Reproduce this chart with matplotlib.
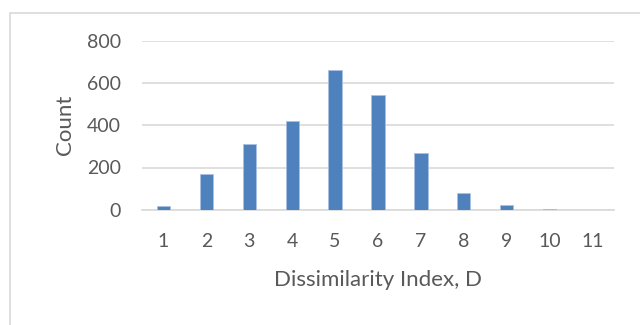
import matplotlib.pyplot as plt
from matplotlib.patches import Rectangle

# counts per dissimilarity index
categories = ['1', '2', '3', '4', '5', '6', '7', '8', '9', '10', '11']
counts = [17, 169, 311, 420, 660, 545, 269, 79, 23, 5, 0]
yticks = [0, 200, 400, 600, 800]

plt.rcParams['font.family'] = ['Lato', 'DejaVu Sans']

fig = plt.figure(figsize=(6.4, 3.25), dpi=100)
ax = fig.add_axes([142/640, 1 - 209.7/325, 472/640, 168.8/325])

# chart border (cropped at right and bottom like the screenshot)
fig.patches.append(Rectangle((9.5/640, -0.1), 1.2, 1.1 - 12.5/325,
                             transform=fig.transFigure, fill=False,
                             edgecolor='#d9d9d9', linewidth=1.2))

x = range(len(categories))
ax.bar(x, counts, width=0.31, color='#4f81bd', edgecolor='#a9c1e2',
       linewidth=0.6, zorder=3)

ax.set_xlim(-0.5, len(categories) - 0.5)
ax.set_ylim(0, 800)
ax.set_yticks(yticks)
ax.set_xticks(list(x))
ax.set_xticklabels(categories)
ax.yaxis.grid(True, color='#d9d9d9', linewidth=1.2, zorder=0)
for s in ['top', 'right', 'left']:
    ax.spines[s].set_visible(False)
ax.spines['bottom'].set_color('#d9d9d9')
ax.spines['bottom'].set_linewidth(1.2)
ax.tick_params(length=0, labelsize=14, labelcolor='#595959')
ax.tick_params(axis='y', pad=15)
ax.tick_params(axis='x', pad=17)

ax.set_ylabel('Count', fontsize=16, color='#595959', labelpad=9)
ax.set_xlabel('Dissimilarity Index, D', fontsize=16, color='#595959', labelpad=14)

fig.savefig('out.png', dpi=100)
